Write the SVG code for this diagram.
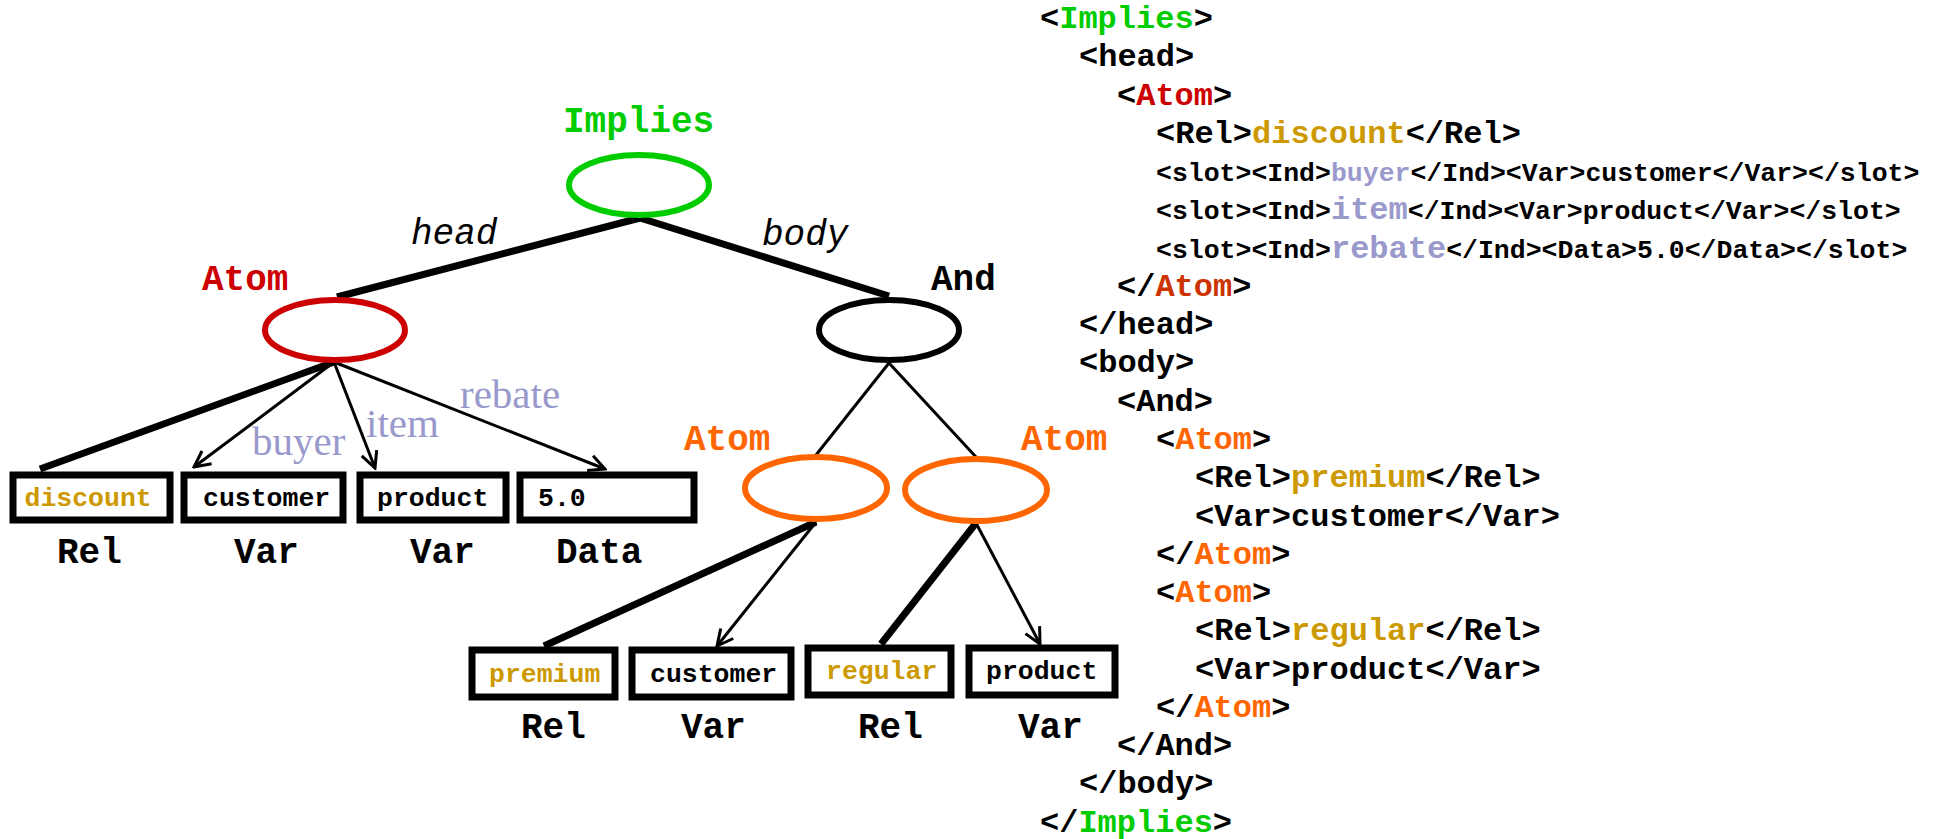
<svg xmlns="http://www.w3.org/2000/svg" width="1942" height="839" viewBox="0 0 1942 839">
<style>
.lbl{font-family:"Liberation Mono",monospace;font-weight:bold;font-size:36px;fill:#000}
.edge{font-family:"Liberation Mono",monospace;font-style:italic;font-size:36px;fill:#000}
.slot{font-family:"Liberation Serif",serif;font-size:41px;fill:#9999cc}
.box{fill:#fff;stroke:#000;stroke-width:7}
.bt{font-family:"Liberation Mono",monospace;font-weight:bold;font-size:26.5px;fill:#000}
.gold{fill:#cc9900}
.ell{fill:none;stroke-width:6}
.thick{stroke:#000;stroke-width:7;fill:none}
.thin{stroke:#000;stroke-width:3;fill:none}
.arr{stroke:#000;stroke-width:3;fill:none;marker-end:url(#ah)}
.x{font-family:"Liberation Mono",monospace;font-weight:bold;font-size:32px;fill:#000}
.xs{font-size:26.5px}
.g{fill:#00cc00}.r{fill:#cc0000}.r2{fill:#cc3300}.o{fill:#ff6600}.lv{fill:#9999cc}
</style>
<defs>
<marker id="ah" viewBox="0 0 20 20" refX="18" refY="10" markerWidth="20" markerHeight="20" markerUnits="userSpaceOnUse" orient="auto">
<path d="M2,2 L18,10 L2,18" fill="none" stroke="#000" stroke-width="3"/>
</marker>
</defs>
<rect width="1942" height="839" fill="#fff"/>

<g id="connectors">
<line class="thick" x1="640" y1="218" x2="337" y2="297"/>
<line class="thick" x1="640" y1="218" x2="889" y2="296"/>
<line class="thin" x1="889" y1="363" x2="816" y2="455"/>
<line class="thin" x1="889" y1="363" x2="976" y2="457"/>
<line class="thick" x1="334" y1="362" x2="40" y2="469"/>
<line class="arr" x1="334" y1="362" x2="194" y2="467"/>
<line class="arr" x1="334" y1="362" x2="375" y2="468"/>
<line class="arr" x1="334" y1="362" x2="605" y2="469"/>
<line class="thick" x1="816" y1="522" x2="544" y2="646"/>
<line class="arr" x1="816" y1="522" x2="717" y2="646"/>
<line class="thick" x1="976" y1="523" x2="881" y2="644"/>
<line class="arr" x1="976" y1="523" x2="1040" y2="644"/>
<text class="edge" x="411" y="244">head</text>
<text class="edge" x="762" y="245">body</text>
<text class="slot" x="252" y="455">buyer</text>
<text class="slot" x="366" y="437">item</text>
<text class="slot" x="460" y="408">rebate</text>
</g>

<g id="implies">
<ellipse class="ell" cx="639" cy="185" rx="70" ry="30" stroke="#00cc00"/>
<text class="lbl g" x="563" y="132">Implies</text>
</g>
<g id="atom-head">
<ellipse class="ell" cx="335" cy="330" rx="70" ry="30" stroke="#cc0000"/>
<text class="lbl r" x="202" y="290">Atom</text>
</g>
<g id="and">
<ellipse class="ell" cx="889" cy="330" rx="70" ry="30" stroke="#000"/>
<text class="lbl" x="931" y="290">And</text>
</g>
<g id="atom-1">
<ellipse class="ell" cx="816" cy="488" rx="71" ry="31" stroke="#ff6600"/>
<text class="lbl o" x="684" y="450">Atom</text>
</g>
<g id="atom-2">
<ellipse class="ell" cx="976" cy="490" rx="71" ry="31" stroke="#ff6600"/>
<text class="lbl o" x="1021" y="450">Atom</text>
</g>

<g id="rel-discount">
<rect class="box" x="13" y="475" width="157" height="45"/>
<text class="bt gold" x="24.5" y="506">discount</text>
<text class="lbl" x="57" y="563">Rel</text>
</g>
<g id="var-customer">
<rect class="box" x="184" y="475" width="159" height="45"/>
<text class="bt" x="203" y="506">customer</text>
<text class="lbl" x="234" y="563">Var</text>
</g>
<g id="var-product">
<rect class="box" x="360" y="475" width="146" height="45"/>
<text class="bt" x="377" y="506">product</text>
<text class="lbl" x="410" y="563">Var</text>
</g>
<g id="data-5">
<rect class="box" x="520" y="475" width="174" height="45"/>
<text class="bt" x="538" y="506">5.0</text>
<text class="lbl" x="556" y="563">Data</text>
</g>
<g id="rel-premium">
<rect class="box" x="472" y="650" width="143" height="47"/>
<text class="bt gold" x="489" y="682">premium</text>
<text class="lbl" x="521" y="738">Rel</text>
</g>
<g id="var-customer-2">
<rect class="box" x="632" y="650" width="159" height="47"/>
<text class="bt" x="650" y="682">customer</text>
<text class="lbl" x="681" y="738">Var</text>
</g>
<g id="rel-regular">
<rect class="box" x="808" y="648" width="143" height="47"/>
<text class="bt gold" x="826" y="679">regular</text>
<text class="lbl" x="858" y="738">Rel</text>
</g>
<g id="var-product-2">
<rect class="box" x="969" y="648" width="146" height="47"/>
<text class="bt" x="986" y="679">product</text>
<text class="lbl" x="1018" y="738">Var</text>
</g>

<g id="xml">
<text class="x" x="1040" y="28">&lt;<tspan class="g">Implies</tspan>&gt;</text>
<text class="x" x="1079" y="66.3">&lt;head&gt;</text>
<text class="x" x="1117" y="104.5">&lt;<tspan class="r">Atom</tspan>&gt;</text>
<text class="x" x="1156" y="142.8">&lt;Rel&gt;<tspan class="gold">discount</tspan>&lt;/Rel&gt;</text>
<text class="x xs" x="1156" y="181">&lt;slot&gt;&lt;Ind&gt;<tspan class="lv">buyer</tspan>&lt;/Ind&gt;&lt;Var&gt;customer&lt;/Var&gt;&lt;/slot&gt;</text>
<text class="x xs" x="1156" y="219.3">&lt;slot&gt;&lt;Ind&gt;<tspan class="lv" style="font-size:32px">item</tspan>&lt;/Ind&gt;&lt;Var&gt;product&lt;/Var&gt;&lt;/slot&gt;</text>
<text class="x xs" x="1156" y="257.6">&lt;slot&gt;&lt;Ind&gt;<tspan class="lv" style="font-size:32px">rebate</tspan>&lt;/Ind&gt;&lt;Data&gt;5.0&lt;/Data&gt;&lt;/slot&gt;</text>
<text class="x" x="1117" y="295.9">&lt;/<tspan class="r2">Atom</tspan>&gt;</text>
<text class="x" x="1079" y="334.2">&lt;/head&gt;</text>
<text class="x" x="1079" y="372.4">&lt;body&gt;</text>
<text class="x" x="1117" y="410.7">&lt;And&gt;</text>
<text class="x" x="1156" y="449">&lt;<tspan class="o">Atom</tspan>&gt;</text>
<text class="x" x="1195" y="487.2">&lt;Rel&gt;<tspan class="gold">premium</tspan>&lt;/Rel&gt;</text>
<text class="x" x="1195" y="525.5">&lt;Var&gt;customer&lt;/Var&gt;</text>
<text class="x" x="1156" y="563.8">&lt;/<tspan class="o">Atom</tspan>&gt;</text>
<text class="x" x="1156" y="602">&lt;<tspan class="o">Atom</tspan>&gt;</text>
<text class="x" x="1195" y="640.3">&lt;Rel&gt;<tspan class="gold">regular</tspan>&lt;/Rel&gt;</text>
<text class="x" x="1195" y="678.6">&lt;Var&gt;product&lt;/Var&gt;</text>
<text class="x" x="1156" y="716.9">&lt;/<tspan class="o">Atom</tspan>&gt;</text>
<text class="x" x="1117" y="755.1">&lt;/And&gt;</text>
<text class="x" x="1079" y="793.4">&lt;/body&gt;</text>
<text class="x" x="1040" y="831.7">&lt;/<tspan class="g">Implies</tspan>&gt;</text>
</g>
</svg>
